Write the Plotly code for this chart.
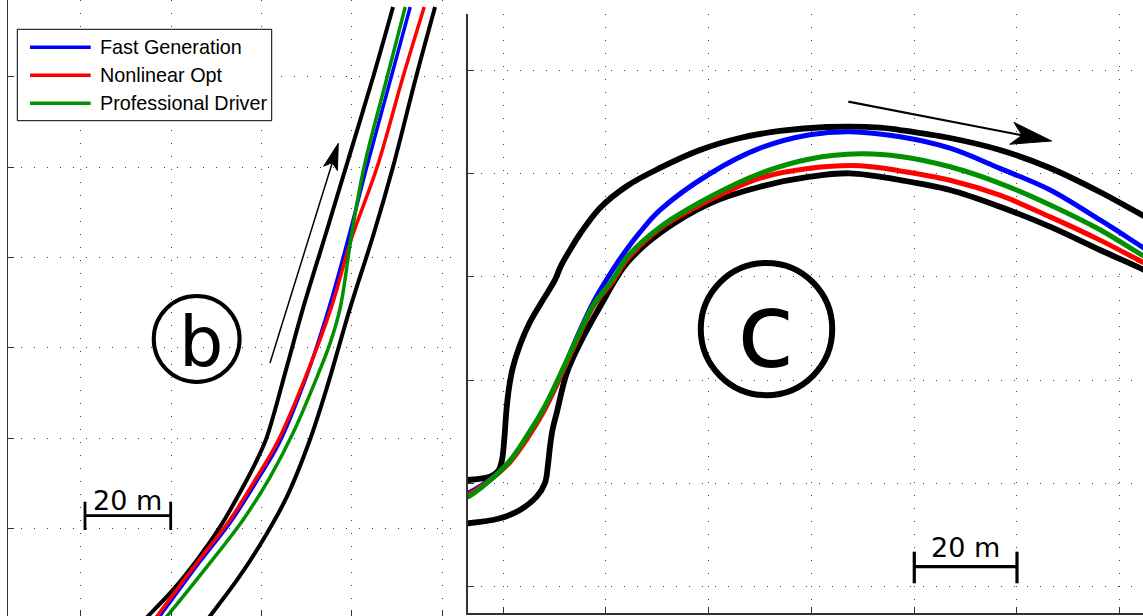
import math
import plotly.graph_objects as go

W, H = 1143, 616

# ---------------- Panel (b): road edges and racing lines (metres) ----------------
b_edge_left_x = [69.1, 64.7, 58.7, 54.3, 49.2, 45.6, 41.2, 39.0, 35.2, 30.8, 25.7, 20.4, 14.9, 11.8]
b_edge_left_y = [115.5, 100.0, 80.1, 65.5, 48.8, 35.8, 20.3, 15.2, 7.9, 0.3, -7.0, -13.6, -19.4, -22.5]
b_edge_right_x = [78.4, 74.2, 69.1, 64.9, 59.6, 54.5, 50.7, 45.6, 40.3, 34.6, 28.6, 26.2]
b_edge_right_y = [115.5, 100.0, 80.1, 65.5, 48.8, 31.3, 19.6, 7.0, -2.6, -11.4, -19.4, -22.5]
b_fast_x = [72.9, 68.7, 63.3, 59.4, 54.9, 49.4, 43.9, 39.5, 33.5, 26.2, 17.5, 15.1]
b_fast_y = [115.5, 100.0, 80.1, 65.0, 48.8, 32.2, 18.9, 11.4, 1.9, -7.6, -19.4, -22.5]
b_nlopt_x = [76.0, 71.3, 65.6, 59.8, 55.4, 49.2, 43.4, 39.0, 33.0, 25.7, 16.9, 14.5]
b_nlopt_y = [115.5, 100.0, 80.1, 63.9, 48.8, 32.2, 18.9, 11.4, 1.9, -7.6, -19.4, -22.5]
b_driver_x = [71.8, 67.8, 62.7, 60.0, 57.4, 55.2, 52.3, 47.0, 41.9, 35.9, 27.9, 19.1, 16.4]
b_driver_y = [115.5, 100.0, 80.1, 65.5, 48.8, 41.1, 33.6, 21.2, 11.4, 1.9, -8.5, -19.4, -22.5]

# ---------------- Panel (c): road edges and racing lines (metres) ----------------
c_edge_outer_x = [-8.4, -6.9, -2.6, -1.0, -0.25, 0.23, 0.62, 1.11, 1.89, 3.25, 5.20, 7.73, 10.07,
                  11.04, 11.63, 12.99, 14.94, 18.83, 24.09, 30.52, 38.31, 46.10, 53.88, 63.04,
                  73.36, 77.25, 86.99, 96.73, 106.46, 116.20, 124.38, 127.88]
c_edge_outer_y = [20.6, 20.66, 21.30, 22.40, 24.53, 28.98, 34.21, 38.47, 42.53, 46.80, 51.25, 55.53, 59.40,
                  61.72, 62.88, 65.19, 68.29, 73.32, 77.58, 81.07, 84.55, 86.87, 88.23, 89.00,
                  88.90, 88.42, 86.87, 84.55, 81.07, 76.42, 71.97, 70.03]
c_edge_inner_x = [-8.43, -6.87, -0.64, 3.25, 6.50, 8.12, 8.70, 9.09, 9.58, 10.40, 12.35, 14.94, 18.83,
                  24.09, 30.52, 40.25, 49.99, 59.73, 67.52, 77.25, 86.99, 96.73, 106.46, 116.20,
                  124.38, 127.88]
c_edge_inner_y = [12.24, 12.28, 13.24, 14.85, 17.43, 20.08, 23.56, 27.05, 30.34, 33.63, 41.32, 47.13, 54.21,
                  62.67, 68.48, 74.23, 77.44, 79.38, 80.04, 78.74, 76.81, 73.57, 69.70, 65.19,
                  61.51, 59.77]
c_fast_x = [-8.4, -6.5, -2.0, 1.3, 4.6, 7.8, 11.0, 14.3, 17.5, 21.4, 24.1, 26.6, 30.5, 40.3, 50.0,
            59.7, 67.5, 77.3, 87.0, 96.7, 106.5, 116.2, 124.4, 127.9]
c_fast_y = [17.6, 18.3, 21.2, 24.3, 28.8, 34.0, 40.4, 48.2, 55.0, 61.5, 65.4, 68.6, 72.9, 80.0, 84.9,
            87.5, 88.1, 87.1, 84.9, 81.0, 76.8, 71.0, 65.8, 63.6]
c_nlopt_x = [-8.4, -6.5, -2.0, 1.3, 4.6, 7.8, 11.0, 14.3, 17.5, 21.4, 24.1, 30.5, 40.3, 50.0, 59.7,
             69.5, 77.3, 87.0, 96.7, 106.5, 116.2, 124.4, 127.9]
c_nlopt_y = [17.3, 18.0, 21.1, 24.1, 28.6, 33.8, 40.4, 47.6, 54.2, 59.2, 63.3, 69.3, 74.9, 79.1, 81.0,
             81.5, 80.5, 78.7, 75.8, 71.6, 67.1, 62.9, 61.1]
c_driver_x = [-8.4, -6.5, -2.0, 1.3, 4.6, 7.8, 11.0, 14.3, 17.5, 21.4, 24.1, 30.5, 40.3, 50.0, 59.7,
              69.5, 77.3, 87.0, 96.7, 106.5, 116.2, 124.4, 127.9]
c_driver_y = [16.8, 17.6, 21.1, 24.4, 29.2, 34.4, 40.9, 48.0, 54.5, 59.6, 63.8, 69.6, 75.5, 80.0, 82.8,
              83.8, 83.3, 81.3, 78.1, 73.9, 69.1, 64.2, 62.3]

SERIES = ["Fast Generation", "Nonlinear Opt", "Professional Driver"]
COLORS = ["#0000ff", "#ff0000", "#009000"]
SCALE_LABEL = "20 m"
PANEL_LABELS = ["b", "c"]

fig = go.Figure()


def add_line(x, y, color, width, xa, ya):
    fig.add_trace(go.Scatter(
        x=x, y=y, mode="lines", xaxis=xa, yaxis=ya, showlegend=False, hoverinfo="skip",
        line=dict(color=color, width=width, shape="spline", smoothing=1.0)))


# panel b
add_line(b_edge_left_x, b_edge_left_y, "black", 4, "x", "y")
add_line(b_edge_right_x, b_edge_right_y, "black", 4, "x", "y")
for (xs, ys), col in zip([(b_fast_x, b_fast_y), (b_nlopt_x, b_nlopt_y), (b_driver_x, b_driver_y)], COLORS):
    add_line(xs, ys, col, 3.5, "x", "y")

# panel c
add_line(c_edge_outer_x, c_edge_outer_y, "black", 5.8, "x2", "y2")
add_line(c_edge_inner_x, c_edge_inner_y, "black", 5.8, "x2", "y2")
for (xs, ys), col in zip([(c_fast_x, c_fast_y), (c_nlopt_x, c_nlopt_y), (c_driver_x, c_driver_y)], COLORS):
    add_line(xs, ys, col, 5, "x2", "y2")

axis_common = dict(showgrid=True, gridcolor="#3c3c3c", gridwidth=1, griddash="1px,12px",
                   zeroline=False, showticklabels=False, ticks="inside", ticklen=6,
                   tickwidth=1, tickcolor="#333333", tickmode="linear", tick0=0, dtick=20)

fig.update_layout(
    width=W, height=H, margin=dict(l=0, r=0, t=0, b=0),
    paper_bgcolor="white", plot_bgcolor="white", showlegend=False,
    xaxis=dict(domain=[8 / W, 455 / W], range=[-16.08, 82.81], anchor="y", showline=False, **axis_common),
    yaxis=dict(domain=[0, 1], range=[-19.38, 117.05], anchor="x", showline=True,
               linecolor="#333333", linewidth=1, **axis_common),
    xaxis2=dict(domain=[468 / W, 1], range=[-6.87, 124.58], anchor="y2", showline=True,
                linecolor="#333333", linewidth=2, **axis_common),
    yaxis2=dict(domain=[3 / H, 602 / H], range=[-5.09, 110.88], anchor="x2", showline=True,
                linecolor="#333333", linewidth=2, **axis_common),
)

shapes = []
annotations = []


def arrow(tail, tip, head_len, head_half, notch, width, xref, yref):
    dx, dy = tip[0] - tail[0], tip[1] - tail[1]
    d = math.hypot(dx, dy)
    ux, uy = dx / d, dy / d
    nx, ny = -uy, ux
    bx, by = tip[0] - head_len * ux, tip[1] - head_len * uy
    c1 = (bx + head_half * nx, by + head_half * ny)
    c2 = (bx - head_half * nx, by - head_half * ny)
    nt = (tip[0] - (head_len - notch) * ux, tip[1] - (head_len - notch) * uy)
    path = f"M{tip[0]},{tip[1]} L{c1[0]},{c1[1]} L{nt[0]},{nt[1]} L{c2[0]},{c2[1]} Z"
    shapes.append(dict(type="line", x0=tail[0], y0=tail[1], x1=nt[0], y1=nt[1], xref=xref, yref=yref,
                       line=dict(color="black", width=width)))
    shapes.append(dict(type="path", path=path, xref=xref, yref=yref, fillcolor="black",
                       line=dict(color="black", width=1)))


arrow((41.88, 36.66), (56.99, 85.31), 5.8, 1.6, 1.3, 1.5, "x", "y")
arrow((67.19, 93.90), (106.80, 86.29), 7.9, 2.15, 2.0, 2.2, "x2", "y2")


def scale_bar(x0, x1, y, ylo, yhi, width, tx, ty, xref, yref):
    for sh in [(x0, y, x1, y), (x0, ylo, x0, yhi), (x1, ylo, x1, yhi)]:
        shapes.append(dict(type="line", x0=sh[0], y0=sh[1], x1=sh[2], y1=sh[3], xref=xref, yref=yref,
                           line=dict(color="black", width=width)))
    annotations.append(dict(x=tx, y=ty, xref=xref, yref=yref, text=SCALE_LABEL, showarrow=False,
                            xanchor="center", yanchor="middle",
                            font=dict(family="DejaVu Sans", size=27, color="black")))


scale_bar(0.95, 19.91, 2.83, -0.33, 5.94, 2.8, 10.46, 6.31, "x", "y")
scale_bar(80.04, 100.04, 3.87, 0.66, 6.78, 3.2, 90.0, 7.68, "x2", "y2")


def circled(cx, cy, r, width, label, tx, ty, size, xref, yref):
    shapes.append(dict(type="circle", x0=cx - r, x1=cx + r, y0=cy - r, y1=cy + r, xref=xref, yref=yref,
                       line=dict(color="black", width=width)))
    annotations.append(dict(x=tx, y=ty, xref=xref, yref=yref, text=label, showarrow=False,
                            xanchor="center", yanchor="middle",
                            font=dict(family="DejaVu Sans", size=size, color="black")))


circled(25.66, 41.97, 9.5, 4, PANEL_LABELS[0], 26.6, 41.3, 70, "x", "y")
circled(51.26, 49.89, 12.8, 6, PANEL_LABELS[1], 51.16, 49.6, 105, "x2", "y2")


# custom legend (MATLAB style, long line samples)
def px(x):
    return x / W


def py(y):
    return 1 - y / H


shapes.append(dict(type="rect", xref="paper", yref="paper", x0=px(17.3), x1=px(271.7), y0=py(120.7),
                   y1=py(29.3), line=dict(color="black", width=1), fillcolor="white", layer="above"))
for i, (name, col) in enumerate(zip(SERIES, COLORS)):
    yy = 47.3 + 28 * i
    shapes.append(dict(type="line", xref="paper", yref="paper", x0=px(30), x1=px(90.7), y0=py(yy), y1=py(yy),
                       line=dict(color=col, width=3.5), layer="above"))
    annotations.append(dict(xref="paper", yref="paper", x=px(97.5), y=py(yy), text=name, showarrow=False,
                            xanchor="left", yanchor="middle",
                            font=dict(family="Liberation Sans, Arial", size=19.8, color="black")))

fig.update_layout(shapes=shapes, annotations=annotations)
fig.write_html("out.html")
